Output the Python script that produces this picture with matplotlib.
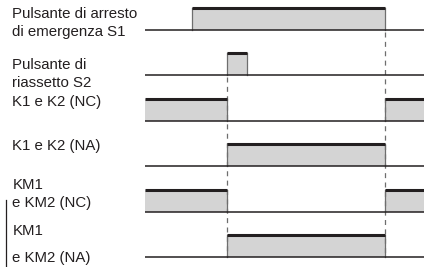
import matplotlib.pyplot as plt

plt.rcParams['font.family'] = ['Liberation Sans', 'DejaVu Sans']

# time axis: 0..100 (arbitrary units across the timing area)
t_end = 100
t_reset = 29.4      # S2 pressed
t_reset_off = 36.6  # S2 released
t_s1_on = 16.8      # S1 pressed
t_release = 86.0    # S1 released

labels = [
    ['Pulsante di arresto', 'di emergenza S1'],
    ['Pulsante di', 'riassetto S2'],
    ['K1 e K2 (NC)'],
    ['K1 e K2 (NA)'],
    ['KM1', 'e KM2 (NC)'],
    ['KM1', 'e KM2 (NA)'],
]
# high intervals of each signal
signals = [
    [(t_s1_on, t_release)],
    [(t_reset, t_reset_off)],
    [(0, t_reset), (t_release, t_end)],
    [(t_reset, t_release)],
    [(0, t_reset), (t_release, t_end)],
    [(t_reset, t_release)],
]

# layout (pixels, y grows downward)
row_base = [30, 75, 121, 166, 212, 257]
row_h = 22
label_base = [[18, 36], [69, 87], [106], [150], [189, 207], [235, 262]]

fig = plt.figure(figsize=(4.24, 2.67), dpi=100)
ax = fig.add_axes([0, 0, 1, 1])
ax.set_xlim(-52, t_end)
ax.set_ylim(267, 0)
ax.axis('off')

dark = '#231f20'
fill = '#d4d4d4'
edge = '#6e6e6e'

for base, sig in zip(row_base, signals):
    top = base - row_h
    for a, b in sig:
        ax.fill_between([a, b], top, base, color=fill, lw=0, zorder=1)
        for xe in (a, b):
            if 0 < xe < t_end:
                ax.plot([xe, xe], [top, base], color=edge, lw=0.9, zorder=2)
        ax.plot([a, b], [top, top], color=dark, lw=2.2, solid_capstyle='butt', zorder=3)
    ax.plot([0, t_end], [base, base], color=dark, lw=1.1, solid_capstyle='butt', zorder=3)

# dashed event markers
ax.plot([t_reset, t_reset], [row_base[1] + 2, row_base[5]], color=edge, lw=0.9,
        dashes=(4, 3.5), zorder=2)
ax.plot([t_release, t_release], [row_base[0] + 2, row_base[5]], color=edge, lw=0.9,
        dashes=(4, 3.5), zorder=2)

for lines, ys in zip(labels, label_base):
    for txt, y in zip(lines, ys):
        ax.text(-47.6, y, txt, fontsize=10.8, color='#231f20', va='baseline', ha='left')

# bracket on the left
ax.plot([-49.8, -49.8], [200, 267], color=dark, lw=0.9)

fig.savefig('out.png', dpi=100)
